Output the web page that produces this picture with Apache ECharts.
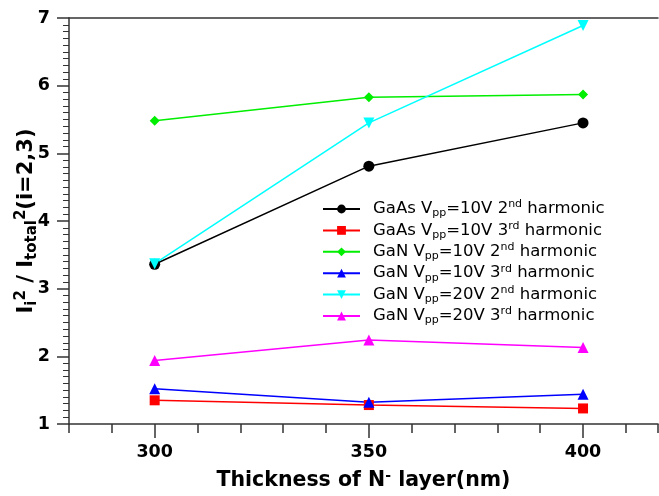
<!DOCTYPE html>
<html><head><meta charset="utf-8">
<script src="https://cdn.jsdelivr.net/npm/echarts@6/dist/echarts.min.js"></script>
<style>html,body{margin:0;padding:0;background:#fff}#c{width:659px;height:496px}</style>
</head><body><div id="c"></div>
<script>
// ---- data ----
const thickness = [300, 350, 400];
const xTickLabels = [300, 350, 400];
const yTickLabels = [1, 2, 3, 4, 5, 6, 7];
const gaas10V2nd = [3.36, 4.81, 5.45];
const gaas10V3rd = [1.35, 1.28, 1.23];
const gan10V2nd = [5.48, 5.83, 5.87];
const gan10V3rd = [1.52, 1.32, 1.44];
const gan20V2nd = [3.37, 5.45, 6.89];
const gan20V3rd = [1.94, 2.24, 2.13];
// legend text parts: material, voltage, harmonic number, ordinal suffix
const legendParts = [
  ['GaAs', '10V', '2', 'nd'],
  ['GaAs', '10V', '3', 'rd'],
  ['GaN', '10V', '2', 'nd'],
  ['GaN', '10V', '3', 'rd'],
  ['GaN', '20V', '2', 'nd'],
  ['GaN', '20V', '3', 'rd']
];
const seriesData = [gaas10V2nd, gaas10V3rd, gan10V2nd, gan10V3rd, gan20V2nd, gan20V3rd];

// ---- styling ----
const colors = ['#000000', '#ff0000', '#00ee00', '#0000ff', '#00ffff', '#ff00ff'];
const symbols = ['circle', 'rect', 'diamond', 'triangle', 'triangle', 'triangle'];
const symbolSizes = [11, 10, 10, 11, 11, 11];
const symbolRotates = [0, 0, 0, 0, 180, 0];
const FONT = 'DejaVu Sans';

const names = legendParts.map(p => p[0] + ' Vpp=' + p[1] + ' ' + p[2] + p[3] + ' harmonic');

const chart = echarts.init(document.getElementById('c'), null, {renderer: 'canvas'});
const axisColor = '#333';

const option = {
  animation: false,
  backgroundColor: '#fff',
  grid: {left: 69, right: 1, top: 18, bottom: 72, containLabel: false, outerBoundsMode: 'none'},
  legend: {
    orient: 'vertical',
    left: 322,
    top: 199,
    padding: 0,
    itemWidth: 37,
    itemHeight: 11,
    itemGap: 1.4,
    data: names,
    formatter: function (name) {
      const p = legendParts[names.indexOf(name)];
      return '{g|}{n|' + p[0] + ' V}{sub|pp}{n|=' + p[1] + ' ' + p[2] + '}{sup|' + p[3] + '}{n| harmonic}';
    },
    textStyle: {
      fontFamily: FONT,
      color: '#000',
      rich: {
        g: {width: 8},
        n: {fontSize: 16.5, fontFamily: FONT, color: '#000', lineHeight: 20},
        sub: {fontSize: 11, fontFamily: FONT, color: '#000', verticalAlign: 'bottom', lineHeight: 12},
        sup: {fontSize: 11, fontFamily: FONT, color: '#000', verticalAlign: 'top', lineHeight: 12}
      }
    }
  },
  xAxis: [
    {
      type: 'value', min: 280, max: 417.5, interval: 10,
      position: 'bottom',
      axisLine: {show: true, onZero: false, lineStyle: {color: axisColor, width: 1.5}},
      axisTick: {show: true, length: 9, lineStyle: {color: axisColor, width: 1.5}},
      axisLabel: {show: false},
      splitLine: {show: false},
      name: '{b|Thickness of N}{bp|-}{b| layer(nm)}',
      nameLocation: 'middle',
      nameGap: 45,
      nameTextStyle: {
        rich: {
          b: {fontSize: 20.5, fontWeight: 'bold', fontFamily: FONT, color: '#000', lineHeight: 24},
          bp: {fontSize: 14, fontWeight: 'bold', fontFamily: FONT, color: '#000', verticalAlign: 'top', lineHeight: 16}
        }
      }
    },
    {
      type: 'value', min: 280, max: 417.5,
      position: 'bottom',
      axisLine: {show: false, onZero: false},
      axisTick: {show: true, length: 14, customValues: xTickLabels, lineStyle: {color: axisColor, width: 1.5}},
      axisLabel: {show: true, customValues: xTickLabels, margin: 19, fontSize: 17.5, fontWeight: 'bold', fontFamily: FONT, color: '#000'},
      splitLine: {show: false}
    },
    {
      type: 'value', min: 280, max: 417.5,
      position: 'top',
      axisLine: {show: true, onZero: false, lineStyle: {color: axisColor, width: 1.5}},
      axisTick: {show: false}, axisLabel: {show: false}, splitLine: {show: false}
    }
  ],
  yAxis: {
    type: 'value', min: 1, max: 7, interval: 1,
    axisLine: {show: true, onZero: false, lineStyle: {color: axisColor, width: 1.5}},
    axisTick: {show: true, length: 12, lineStyle: {color: axisColor, width: 1.5}},
    minorTick: {show: true, splitNumber: 10, length: 6, lineStyle: {color: axisColor, width: 1}},
    axisLabel: {margin: 19, fontSize: 17.5, fontWeight: 'bold', fontFamily: FONT, color: '#000',
      formatter: v => yTickLabels.includes(v) ? String(v) : ''},
    splitLine: {show: false},
    name: '{b|I}{bs|i}{bp|2}{b| / I}{bs|total}{bp|2}{b|(i=2,3)}',
    nameLocation: 'middle',
    nameRotate: 90,
    nameGap: 29,
    nameMoveOverlap: false,
    nameTextStyle: {
      rich: {
        b: {fontSize: 21, fontWeight: 'bold', fontFamily: FONT, color: '#000', lineHeight: 26},
        bs: {fontSize: 15, fontWeight: 'bold', fontFamily: FONT, color: '#000', verticalAlign: 'bottom', lineHeight: 14},
        bp: {fontSize: 15, fontWeight: 'bold', fontFamily: FONT, color: '#000', verticalAlign: 'top', lineHeight: 14}
      }
    }
  },
  series: names.map((nm, i) => ({
    name: nm,
    type: 'line',
    xAxisIndex: 0,
    data: thickness.map((x, j) => [x, seriesData[i][j]]),
    symbol: symbols[i],
    symbolSize: symbolSizes[i],
    symbolRotate: symbolRotates[i],
    showAllSymbol: true,
    itemStyle: {color: colors[i]},
    lineStyle: {color: colors[i], width: 1.5},
    z: 2
  }))
};
chart.setOption(option);
</script>
</body></html>
